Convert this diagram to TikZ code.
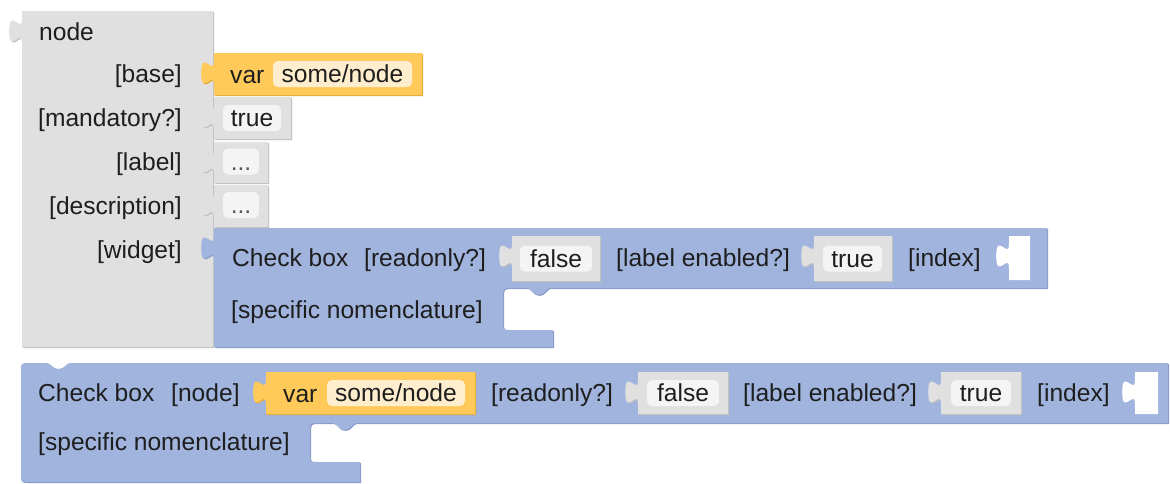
\documentclass[tikz,border=0pt]{standalone}
\usepackage{fontspec}
\setmainfont{Liberation Sans}
\definecolor{greyfill}{RGB}{224,224,224}
\definecolor{greydark}{RGB}{190,190,190}
\definecolor{bluefill}{RGB}{160,180,222}
\definecolor{bluedark}{RGB}{136,154,202}
\definecolor{orfill}{RGB}{255,202,90}
\definecolor{ordark}{RGB}{226,170,60}
\definecolor{orpill}{RGB}{255,238,205}
\definecolor{greypill}{RGB}{244,244,244}
\definecolor{txtcol}{RGB}{30,30,30}
\definecolor{dotcol}{RGB}{85,85,85}
\newcommand\lblfont{\fontsize{24.6}{28}\selectfont}
% value block: left, top, right, bottom (output tab on the left)
\newcommand\valshape[4]{(#1,#2) -- ++(0,8) .. controls +(0,16) and +(0,-24.8) .. ++(-12.8,12) .. controls +(0,24.8) and +(0,-16) .. ++(12.8,12) -- (#1,#4) -- (#3,#4) -- (#3,#2) -- cycle}
\newcommand\valblock[6]{%
  \fill[#2, shift={(1,1)}] \valshape{#3}{#4}{#5}{#6};
  \fill[#1] \valshape{#3}{#4}{#5}{#6};}
\newcommand\bOne{(214,228) -- ++(0,8) .. controls +(0,16) and +(0,-24.8) .. ++(-12.8,12) .. controls +(0,24.8) and +(0,-16) .. ++(12.8,12) -- (214,347) -- (553,347) -- (553,330) -- (512,330) .. controls (503,330) .. (503,321) -- (503,297) .. controls (503,288) .. (512,288) -- (527,288) .. controls (531,288) and (532,295) .. (538.5,295) .. controls (545,295) and (546,288) .. (550,288) -- (1047,288) -- (1047,228) -- cycle}
\newcommand\bTwo{(21,371) .. controls (21,363) .. (29,363) -- (47,363) .. controls (51,363) and (52,369) .. (58.5,369) .. controls (65,369) and (66,363) .. (70,363) -- (1168,363) -- (1168,423) -- (356,423) .. controls (352,423) and (351,430) .. (344.5,430) .. controls (338,430) and (337,423) .. (333,423) -- (319,423) .. controls (310,423) .. (310,432) -- (310,453) .. controls (310,462) .. (319,462) -- (360,462) -- (360,482) -- (27,482) .. controls (21,482) .. (21,476) -- cycle}
\tikzset{
  lbl/.style={font=\lblfont, text=txtcol, inner sep=0pt, text height=17.5pt, text depth=0pt},
  pill/.style={lbl, rounded corners=5pt, minimum height=26pt, anchor=center},
  gpill/.style={pill, fill=greypill},
  opill/.style={pill, fill=orpill},
}
\begin{document}
\begin{tikzpicture}[x=1pt, y=-1pt]
\useasboundingbox (0,0) rectangle (1170,483);
\fill[white] (0,0) rectangle (1170,483);

% ---- node block
\valblock{greyfill}{greydark}{22}{11}{213}{347}
\node[lbl, anchor=base west] (nodeT) at (39,40) {node};
\node[lbl, anchor=base east] (baseL) at (182,82.5) {[base]};
\node[lbl, anchor=base east] (mandL) at (182,126.5) {[mandatory?]};
\node[lbl, anchor=base east] (labelL) at (182,170.5) {[label]};
\node[lbl, anchor=base east] (descL) at (182,214) {[description]};
\node[lbl, anchor=base east] (widgL) at (182,258) {[widget]};

% children of node block
\valblock{orfill}{ordark}{214}{53}{422}{95}
\node[lbl, anchor=base west] (var1) at (230,83) {var};
\node[opill, minimum width=139pt] (v1p) at (342.5,74) {some/node};

\valblock{greyfill}{greydark}{214}{97}{291}{139}
\node[gpill, minimum width=58pt] (t1p) at (252,118) {true};

\valblock{greyfill}{greydark}{214}{142}{268}{183}
\node[gpill, minimum width=36pt, text=dotcol] (d1p) at (241,161.5) {...};

\valblock{greyfill}{greydark}{214}{185}{268}{227}
\node[gpill, minimum width=36pt, text=dotcol] (d2p) at (241,205) {...};

% ---- widget check box block
\fill[bluedark, shift={(1,1)}] \bOne;
\fill[bluefill] \bOne;
\node[lbl, anchor=base west] (cb1) at (232,266.5) {Check box};
\node[lbl, anchor=base west] (ro1) at (364,266.5) {[readonly?]};
\valblock{greyfill}{greydark}{512}{236}{600}{281}
\node[gpill, minimum width=72pt] (f1p) at (556,258.5) {false};
\node[lbl, anchor=base west] (le1) at (616,266.5) {[label enabled?]};
\valblock{greyfill}{greydark}{814}{236}{892}{281}
\node[gpill, minimum width=59pt] (t2p) at (852.5,258.5) {true};
\node[lbl, anchor=base west] (ix1) at (908,266.5) {[index]};
\fill[white] \valshape{1009}{236}{1030}{280};
\node[lbl, anchor=base west] (sn1) at (231,318.5) {[specific nomenclature]};

% ---- standalone check box block
\fill[bluedark, shift={(1,1)}] \bTwo;
\fill[bluefill] \bTwo;
\node[lbl, anchor=base west] (cb2) at (38,401) {Check box};
\node[lbl, anchor=base west] (nd2) at (171,401) {[node]};
\valblock{orfill}{ordark}{266}{372}{475}{414}
\node[lbl, anchor=base west] (var2) at (283,402) {var};
\node[opill, minimum width=138pt] (v2p) at (396,393) {some/node};
\node[lbl, anchor=base west] (ro2) at (491,401) {[readonly?]};
\valblock{greyfill}{greydark}{638}{372}{728}{414}
\node[gpill, minimum width=72pt] (f2p) at (683,393) {false};
\node[lbl, anchor=base west] (le2) at (743,401) {[label enabled?]};
\valblock{greyfill}{greydark}{941}{372}{1021}{414}
\node[gpill, minimum width=60pt] (t3p) at (981,393) {true};
\node[lbl, anchor=base west] (ix2) at (1037,401) {[index]};
\fill[white] \valshape{1135}{372}{1158}{414};
\node[lbl, anchor=base west] (sn2) at (38,450) {[specific nomenclature]};
\end{tikzpicture}
\end{document}
